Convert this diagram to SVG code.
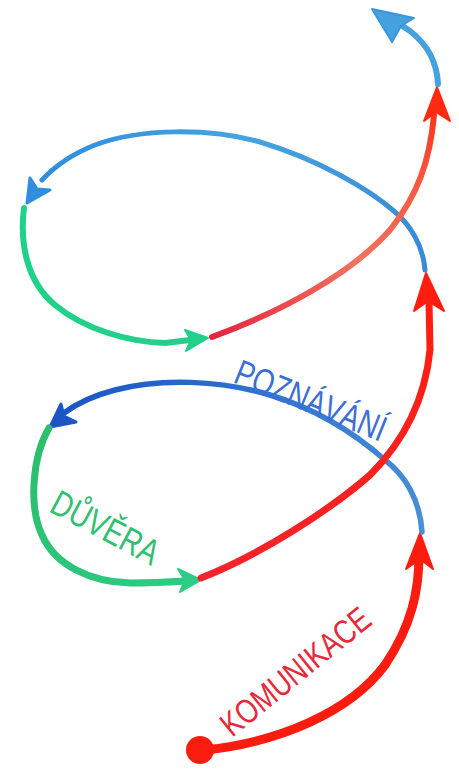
<svg xmlns="http://www.w3.org/2000/svg" width="459" height="775" viewBox="0 0 459 775">
<style>
.ln{fill:none;stroke-linecap:round;stroke-linejoin:round}
.lbl{font-family:"Liberation Sans","DejaVu Sans",sans-serif;font-weight:normal}
</style>
<defs>
<linearGradient id="gRedUp" gradientUnits="userSpaceOnUse" x1="212" y1="337" x2="437" y2="90">
<stop offset="0" stop-color="#e5243f"/><stop offset="0.45" stop-color="#f0735f"/><stop offset="0.75" stop-color="#f55a45"/><stop offset="1" stop-color="#ff2a12"/>
</linearGradient>
<linearGradient id="gRedMid" gradientUnits="userSpaceOnUse" x1="200" y1="578" x2="430" y2="300">
<stop offset="0" stop-color="#f3242e"/><stop offset="1" stop-color="#ff1e10"/>
</linearGradient>
<linearGradient id="gBlueLow" gradientUnits="userSpaceOnUse" x1="55" y1="422" x2="422" y2="532">
<stop offset="0" stop-color="#1c55c4"/><stop offset="0.5" stop-color="#2f74d0"/><stop offset="1" stop-color="#4a8ed6"/>
</linearGradient>
<linearGradient id="gBlueUp" gradientUnits="userSpaceOnUse" x1="30" y1="190" x2="425" y2="270">
<stop offset="0" stop-color="#2f8ede"/><stop offset="0.5" stop-color="#45a4e0"/><stop offset="1" stop-color="#3a8ad6"/>
</linearGradient>
<linearGradient id="gGreenUp" gradientUnits="userSpaceOnUse" x1="24" y1="208" x2="207" y2="338">
<stop offset="0" stop-color="#1fd18a"/><stop offset="1" stop-color="#22d08c"/>
</linearGradient>
<linearGradient id="gGreenLow" gradientUnits="userSpaceOnUse" x1="48" y1="428" x2="200" y2="580">
<stop offset="0" stop-color="#2cbe6c"/><stop offset="1" stop-color="#2ccc86"/>
</linearGradient>
</defs>
<rect width="459" height="775" fill="#ffffff"/>
<g id="connectors">
<path class="ln" d="M 205,750 C 280,742 350,712 385,665 C 412,625 419,590 419,555" stroke="#fb1c10" stroke-width="9"/>
<path d="M 420,533 L 433,569 L 420,559 L 406,569 Z" fill="#fb1c10" stroke="#fb1c10" stroke-width="2" stroke-linejoin="round"/>
<path class="ln" d="M 422,532 C 420,500 405,475 385,460 C 360,438 320,410 270,395 C 220,380 160,378 115,390 C 92,396 76,404 64,413" stroke="url(#gBlueLow)" stroke-width="5.5"/>
<path d="M 50,427 L 61,404 L 64,416 L 76,422 Z" fill="#1c55c4" stroke="#1c55c4" stroke-width="3" stroke-linejoin="round"/>
<path class="ln" d="M 49,428 C 33,455 28,505 42,535 C 55,565 90,582 130,583 C 150,583 170,582 186,581" stroke="url(#gGreenLow)" stroke-width="7"/>
<path d="M 201,580 L 178,569 L 185,580 L 180,592 Z" fill="#2ccc86" stroke="#2ccc86" stroke-width="2" stroke-linejoin="round"/>
<path class="ln" d="M 201,578 C 260,555 330,510 370,475 C 405,440 425,400 430,350 L 429,302" stroke="url(#gRedMid)" stroke-width="7"/>
<path d="M 426,273 L 444,311 L 428,301 L 414,311 Z" fill="#ff1e10" stroke="#ff1e10" stroke-width="2" stroke-linejoin="round"/>
<path class="ln" d="M 425,270 C 423,245 410,225 395,212 C 370,190 320,160 260,142 C 210,128 140,128 95,145 C 72,154 55,166 42,180" stroke="url(#gBlueUp)" stroke-width="5"/>
<path d="M 27,203 L 30,178 L 37,189 L 50,190 Z" fill="#2f8ede" stroke="#2f8ede" stroke-width="3" stroke-linejoin="round"/>
<path class="ln" d="M 24,208 C 20,240 25,280 55,305 C 85,330 130,342 165,343 L 190,340" stroke="url(#gGreenUp)" stroke-width="6"/>
<path d="M 208,338 L 185,330 L 191,340 L 186,351 Z" fill="#22d08c" stroke="#22d08c" stroke-width="2" stroke-linejoin="round"/>
<path class="ln" d="M 212,337 C 280,312 350,275 390,230 C 418,195 430,160 434,115" stroke="url(#gRedUp)" stroke-width="6"/>
<path d="M 437,87 L 450,121 L 436,112 L 424,121 Z" fill="#ff2a12" stroke="#ff2a12" stroke-width="2" stroke-linejoin="round"/>
<path class="ln" d="M 438,84 C 437,62 428,45 410,31 L 398,23" stroke="#44a2de" stroke-width="6"/>
<path d="M 372,9 L 414,18 L 401,26 L 392,42 Z" fill="#44a2de" stroke="#3b95da" stroke-width="2" stroke-linejoin="round"/>
</g>
<g id="start">
<circle cx="200" cy="750" r="14" fill="#fb1c10"/>
</g>
<g id="komunikace">
<text class="lbl" transform="translate(232,738) rotate(-39)" font-size="34" fill="#e8283a" textLength="182" lengthAdjust="spacingAndGlyphs">KOMUNIKACE</text>
</g>
<g id="poznavani">
<text class="lbl" transform="translate(232,382) rotate(22)" font-size="36" fill="#3a6fd6" textLength="160" lengthAdjust="spacingAndGlyphs">POZNÁVÁNÍ</text>
</g>
<g id="duvera">
<text class="lbl" transform="translate(48,511) rotate(28)" font-size="36" fill="#2fc070" textLength="117" lengthAdjust="spacingAndGlyphs">DŮVĚRA</text>
</g>
</svg>
